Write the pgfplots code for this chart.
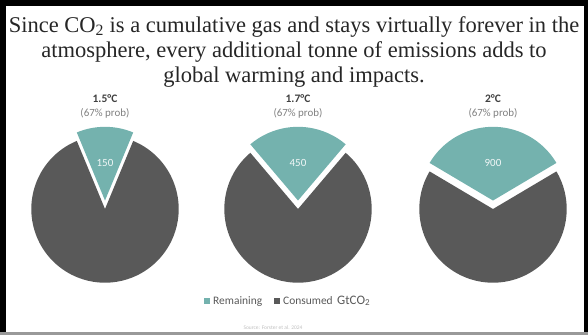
\documentclass[border=0pt]{standalone}
\usepackage{fontspec}
\setmainfont{Carlito}
\newfontfamily\serif{Liberation Serif}
\usepackage{pgfplots}
\usepackage{pgfplotstable}
\pgfplotsset{compat=1.18}
\definecolor{rem}{HTML}{74B2AE}
\definecolor{con}{HTML}{595959}
\definecolor{txt}{HTML}{404040}
\pgfplotstableread{
rem cons
150 1050
450 1560
900 1830
}\budgets
\newcommand\pie[3]{%
 \pgfplotstablegetelem{#1}{rem}\of\budgets \edef\R{\pgfplotsretval}%
 \pgfplotstablegetelem{#1}{cons}\of\budgets \edef\C{\pgfplotsretval}%
 \pgfmathsetmacro\half{180*(\R/(\R+\C))}%
 \pgfmathsetmacro\lo{90-\half}\pgfmathsetmacro\hi{90+\half}\pgfmathsetmacro\hiB{450-\half}%
 \begin{axis}[at={(#2bp,-#3bp)}, anchor=origin, x=73.7bp, y=73.7bp,
   xmin=-1.05,xmax=1.05,ymin=-1.05,ymax=1.15, hide axis, clip=false]
 \addplot[fill=con, draw=none, domain=\hi:\hiB, samples=120, variable=\t] ({cos(\t)},{sin(\t)}) -- (axis cs:0,0) -- cycle;
 \addplot[fill=rem, draw=none, domain=\lo:\hi, samples=60, variable=\t] ({cos(\t)},{0.115+sin(\t)}) -- (axis cs:0,0.115) -- cycle;
 \node[text=white!90!rem, font=\fontsize{11}{13}\selectfont] at (axis cs:0,0.62) {\R};
 \end{axis}}
\begin{document}
\begin{tikzpicture}
\path (0,0) rectangle (588bp,-335bp);
\fill[black] (0,0) rectangle (6bp,-332bp);
\fill[black] (0,0) rectangle (588bp,-6bp);
\fill[black] (584bp,0) rectangle (588bp,-332bp);
\fill[black!40] (0,-332bp) rectangle (588bp,-335bp);
\begin{scope}[every node/.style={inner sep=0pt, text=black!85, font=\serif\fontsize{22.6}{26}\selectfont, anchor=base}]
\node at (294bp,-32bp) {Since CO\textsubscript{2} is a cumulative gas and stays virtually forever in the};
\node at (294bp,-57bp) {atmosphere, every additional tonne of emissions adds to};
\node at (294bp,-82bp) {global warming and impacts.};
\end{scope}
\pie{0}{105}{209}
\pie{1}{298}{209}
\pie{2}{493}{209}
\begin{scope}[every node/.style={inner sep=0pt, anchor=base}]
\foreach \x/\t in {105/1.5°C, 298/1.7°C, 493/2°C}{
  \node[font=\bfseries\fontsize{11.5}{13}\selectfont, text=txt] at (\x bp,-102bp) {\t};
  \node[font=\fontsize{11}{13}\selectfont, text=black!50] at (\x bp,-116bp) {(67\% prob)};
}
\fill[rem] (204bp,-298bp) rectangle (209.5bp,-303.5bp);
\node[anchor=base west, font=\fontsize{11.5}{13}\selectfont, text=con] at (213bp,-304bp) {Remaining};
\fill[con] (274bp,-298bp) rectangle (279.5bp,-303.5bp);
\node[anchor=base west, font=\fontsize{11.5}{13}\selectfont, text=con] at (283bp,-304bp) {Consumed};
\node[anchor=base west, font=\fontsize{13}{15}\selectfont, text=con] at (337bp,-304bp) {GtCO\textsubscript{2}};
\node[font=\fontsize{5.5}{7}\selectfont, text=black!25] at (273bp,-329bp) {Source: Forster et al. 2024};
\end{scope}
\end{tikzpicture}
\end{document}
